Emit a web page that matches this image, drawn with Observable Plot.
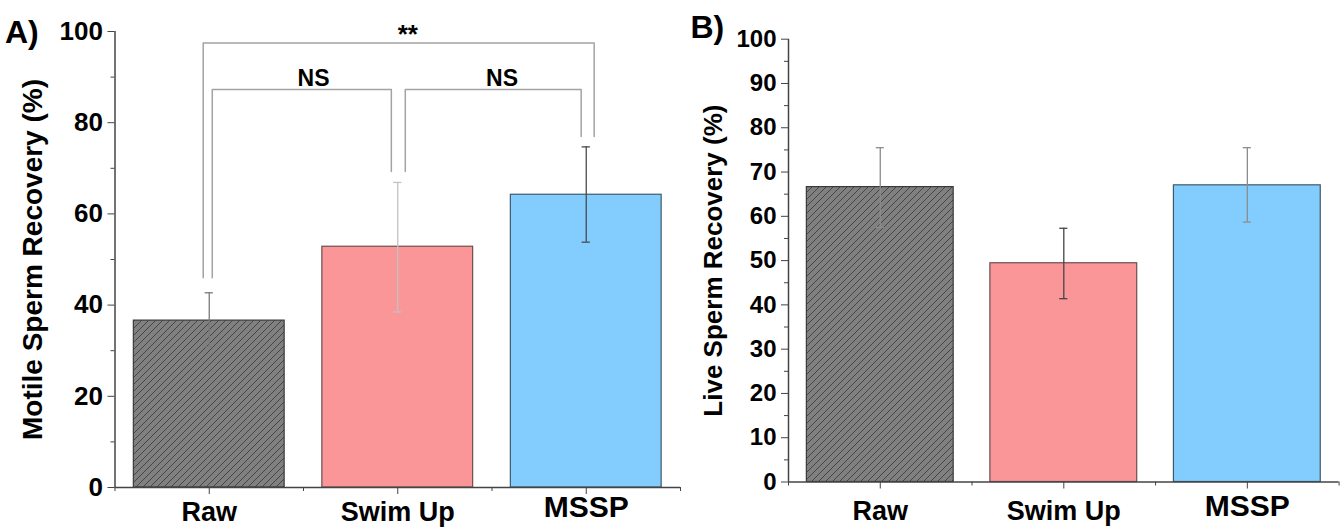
<!DOCTYPE html>
<html><head><meta charset="utf-8">
<script src="https://cdn.jsdelivr.net/npm/d3@7"></script>
<script src="https://cdn.jsdelivr.net/npm/@observablehq/plot@0.6"></script>
<style>
body{margin:0;background:#fff;}
#wrap{position:relative;width:1342px;height:527px;overflow:hidden;}
#a,#b{position:absolute;top:0;}
#a{left:0}#b{left:670px}
svg{overflow:visible}
</style></head><body>
<svg width="0" height="0" style="position:absolute">
<defs><pattern id="hatch" patternUnits="userSpaceOnUse" width="7" height="7">
<rect width="7" height="7" fill="#808080"/>
<path d="M-1,1 L1,-1 M0,7 L7,0 M6,8 L8,6" stroke="#3e3e3e" stroke-width="0.9"/>
</pattern></defs></svg>
<div id="wrap"><div id="a"></div><div id="b"></div></div>
<script>
// ---- data ----
const categories = ["Raw", "Swim Up", "MSSP"];
const motileMean = [36.6, 52.8, 64.2];
const motileLow  = [30.9, 38.5, 53.8];
const motileHigh = [42.7, 66.9, 74.7];
const liveMean = [66.6, 49.4, 67.0];
const liveLow  = [57.5, 41.4, 58.7];
const liveHigh = [75.5, 57.3, 75.5];
const motileTicks = [0, 20, 40, 60, 80, 100];
const motileMinorTicks = [10, 30, 50, 70, 90];
const liveTicks = [0, 10, 20, 30, 40, 50, 60, 70, 80, 90, 100];
const liveMinorTicks = [5, 15, 25, 35, 45, 55, 65, 75, 85, 95];
const bracketFrom = [0, 0, 1];
const bracketTo   = [2, 1, 2];
const bracketLevel = [97.5, 87.3, 87.3];
const bracketDropFrom = [46, 46, 69.3];
const bracketDropTo   = [77, 69.3, 77];
const bracketLabel = ["**", "NS", "NS"];

// ---- styles ----
const FONT = "'Liberation Sans', Arial, sans-serif";
const AX = "#444";
const barFill = ["url(#hatch)", "#FA9697", "#82CDFE"];
const barStroke = ["#3a3a3a", "#6b4f4f", "#3f5a6c"];
const errA = ["#7a7a7a", "#c2c2c2", "#4a4a4a"];
const errB = ["#8c8c8c", "#454545", "#8c8c8c"];
const bracketShift = [[-0.032, 0.042], [0.016, -0.034], [0.04, -0.027]];
const labelSize = [27, 27, 30];
const labelDy = [25, 25, 20];

function panel({mean, low, high, ticks, minor, errColor, title, tag, tagDx, tagDy, titleDx, titleSize, tickSize, width, mL, mR, mT, mB, labelDyExtra, brackets}) {
  const idx = categories.map((c, i) => i);
  const marks = [];
  idx.forEach(i => {
    marks.push(Plot.rect([i], {x1: d => d - 0.4, x2: d => d + 0.4, y1: 0, y2: d => mean[d],
      fill: barFill[i], stroke: barStroke[i], strokeWidth: 1.2}));
  });
  idx.forEach(i => {
    marks.push(Plot.ruleX([i], {x: d => d, y1: d => low[d], y2: d => high[d], stroke: errColor[i], strokeWidth: 1.3}));
    marks.push(Plot.ruleY([low[i], high[i]], {x1: i - 0.022, x2: i + 0.022, y: d => d, stroke: errColor[i], strokeWidth: 1.3}));
  });
  if (brackets) {
    const pts = [];
    bracketFrom.forEach((f, k) => {
      const xl = f + bracketShift[k][0], xr = bracketTo[k] + bracketShift[k][1];
      pts.push({k, x: xl, y: bracketDropFrom[k]}, {k, x: xl, y: bracketLevel[k]},
               {k, x: xr, y: bracketLevel[k]}, {k, x: xr, y: bracketDropTo[k]});
    });
    marks.push(Plot.line(pts, {x: "x", y: "y", z: "k", stroke: "#a3a3a3", strokeWidth: 1.5}));
    const labs = bracketFrom.map((f, k) => ({x: (f + bracketTo[k]) / 2, y: bracketLevel[k], t: bracketLabel[k]}));
    marks.push(Plot.text(labs.filter(d => d.t === "**"), {x: "x", y: "y", text: "t", dx: 10, dy: -8, fontSize: 26, fontWeight: "bold"}));
    marks.push(Plot.text(labs.filter(d => d.t !== "**"), {x: "x", y: "y", text: "t", dx: 10, dy: -11, fontSize: 23, fontWeight: "bold"}));
  }
  marks.push(
    Plot.ruleY([0], {x1: -0.5, x2: 2.5, stroke: AX, strokeWidth: 1.5}),
    Plot.ruleX([-0.5], {y1: 0, y2: 100, stroke: AX, strokeWidth: 1.5}),
    Plot.axisY({ticks, tickSize: 7, tickPadding: 5, label: null, stroke: AX, fontSize: tickSize, fontWeight: "bold", fill: "#000"}),
    Plot.axisY({ticks: minor, tickSize: 4, tickFormat: () => "", label: null, stroke: AX}),
    Plot.axisX({ticks: [0, 1, 2], tickSize: 7, tickFormat: () => "", label: null, stroke: AX}),
    Plot.axisX({ticks: [-0.5, 0.5, 1.5, 2.5], tickSize: 4, tickFormat: () => "", label: null, stroke: AX})
  );
  idx.forEach(i => {
    marks.push(Plot.text([i], {x: d => d, frameAnchor: "bottom", lineAnchor: "middle", text: d => categories[d],
      dy: labelDy[i] + labelDyExtra, fontSize: labelSize[i], fontWeight: "bold", fill: "#000"}));
  });
  marks.push(Plot.text([title], {frameAnchor: "left", textAnchor: "middle", lineAnchor: "middle", rotate: -90, dx: titleDx, fontSize: titleSize, fontWeight: "bold", fill: "#000"}));
  marks.push(Plot.text([tag], {frameAnchor: "top-left", textAnchor: "start", lineAnchor: "middle", dx: tagDx, dy: tagDy, fontSize: 32, fontWeight: "bold", fill: "#000"}));
  return Plot.plot({
    width, height: 527, marginLeft: mL, marginRight: mR, marginTop: mT, marginBottom: mB,
    x: {type: "linear", domain: [-0.5, 2.5]},
    y: {domain: [0, 100]},
    style: {fontFamily: FONT, background: "transparent", color: "#000", overflow: "visible"},
    marks
  });
}

document.getElementById("a").appendChild(panel({
  mean: motileMean, low: motileLow, high: motileHigh, ticks: motileTicks, minor: motileMinorTicks,
  errColor: errA, title: "Motile Sperm Recovery (%)", tag: "A)", tagDx: -110, tagDy: 1, titleDx: -82, titleSize: 28,
  tickSize: 26, width: 682, mL: 114.5, mR: 2, mT: 31, mB: 40, labelDyExtra: 0, brackets: true
}));
document.getElementById("b").appendChild(panel({
  mean: liveMean, low: liveLow, high: liveHigh, ticks: liveTicks, minor: liveMinorTicks,
  errColor: errB, title: "Live Sperm Recovery (%)", tag: "B)", tagDx: -98, tagDy: -11, titleDx: -75, titleSize: 26,
  tickSize: 24, width: 672, mL: 118, mR: 3.4, mT: 38.7, mB: 45.5, labelDyExtra: 4.5, brackets: false
}));
</script>
</body></html>
